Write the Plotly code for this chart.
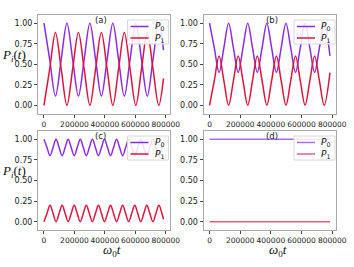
import plotly.graph_objects as go

# ---------------- data ----------------
t_a = [0, 37700, 75400, 113100, 150800, 188500, 226200, 263900, 301600, 339300,
       377000, 414700, 452400, 490100, 527800, 565500, 603200, 640900, 678600,
       716300, 754000, 785400]
P0_a = [1, 0.556, 0.112, 0.556, 1, 0.556, 0.112, 0.556, 1, 0.556, 0.112, 0.556,
        1, 0.556, 0.112, 0.556, 1, 0.556, 0.112, 0.556, 1, 0.671]
P1_a = [0, 0.444, 0.888, 0.444, 0, 0.444, 0.888, 0.444, 0, 0.444, 0.888, 0.444,
        0, 0.444, 0.888, 0.444, 0, 0.444, 0.888, 0.444, 0, 0.329]

t_b = [0, 31150, 62300, 93450, 124600, 155750, 186900, 218050, 249200, 280350,
       311500, 342650, 373800, 404950, 436100, 467250, 498400, 529550, 560700,
       591850, 623000, 654150, 685300, 716450, 747600, 785400]
P0_b = [1, 0.7, 0.4, 0.7, 1, 0.7, 0.4, 0.7, 1, 0.7, 0.4, 0.7, 1, 0.7, 0.4, 0.7,
        1, 0.7, 0.4, 0.7, 1, 0.7, 0.4, 0.7, 1, 0.602]
P1_b = [0, 0.3, 0.6, 0.3, 0, 0.3, 0.6, 0.3, 0, 0.3, 0.6, 0.3, 0, 0.3, 0.6, 0.3,
        0, 0.3, 0.6, 0.3, 0, 0.3, 0.6, 0.3, 0, 0.398]

t_c = [0, 19875, 39750, 59625, 79500, 99375, 119250, 139125, 159000, 178875,
       198750, 218625, 238500, 258375, 278250, 298125, 318000, 337875, 357750,
       377625, 397500, 417375, 437250, 457125, 477000, 496875, 516750, 536625,
       556500, 576375, 596250, 616125, 636000, 655875, 675750, 695625, 715500,
       735375, 755250, 775125, 785400]
P0_c = [1, 0.9, 0.8, 0.9, 1, 0.9, 0.8, 0.9, 1, 0.9, 0.8, 0.9, 1, 0.9, 0.8, 0.9,
        1, 0.9, 0.8, 0.9, 1, 0.9, 0.8, 0.9, 1, 0.9, 0.8, 0.9, 1, 0.9, 0.8, 0.9,
        1, 0.9, 0.8, 0.9, 1, 0.9, 0.8, 0.9, 0.972]
P1_c = [0, 0.1, 0.2, 0.1, 0, 0.1, 0.2, 0.1, 0, 0.1, 0.2, 0.1, 0, 0.1, 0.2, 0.1,
        0, 0.1, 0.2, 0.1, 0, 0.1, 0.2, 0.1, 0, 0.1, 0.2, 0.1, 0, 0.1, 0.2, 0.1,
        0, 0.1, 0.2, 0.1, 0, 0.1, 0.2, 0.1, 0.028]

t_d = [0, 785400]
P0_d = [1, 1]
P1_d = [0, 0]

panel_labels = ["(a)", "(b)", "(c)", "(d)"]
x_tickvals = [0, 200000, 400000, 600000, 800000]
x_ticktext = ["0", "200000", "400000", "600000", "800000"]
y_tickvals = [0, 0.25, 0.5, 0.75, 1.0]
y_ticktext = ["0.00", "0.25", "0.50", "0.75", "1.00"]

# ---------------- styling / layout ----------------
W, H = 354, 267
C0, C1 = "#8a2be2", "#dc143c"
C0d, C1d = "#a96cee", "#e8627c"


def px(x):
    return x / W


def py(y):
    return 1 - y / H


# pixel boxes (left, top, right, bottom)
boxes = [(38, 15, 169.5, 113.5), (203.5, 15, 336, 113.5),
         (38, 131, 169.5, 230), (203.5, 131, 336, 230)]

data_sets = [(t_a, P0_a, P1_a), (t_b, P0_b, P1_b), (t_c, P0_c, P1_c), (t_d, P0_d, P1_d)]

fig = go.Figure()
layout = dict(width=W, height=H, margin=dict(l=0, r=0, t=0, b=0, autoexpand=False),
              paper_bgcolor="white", plot_bgcolor="white", showlegend=False)
shapes, annotations = [], []

for i, ((t, p0, p1), (l, tp, r, b)) in enumerate(zip(data_sets, boxes)):
    n = "" if i == 0 else str(i + 1)
    c0, c1 = (C0d, C1d) if i == 3 else (C0, C1)
    fig.add_trace(go.Scatter(x=t, y=p0, mode="lines", name="P0",
                             line=dict(color=c0, width=1.5, shape="spline", smoothing=1.0),
                             xaxis="x" + n, yaxis="y" + n))
    fig.add_trace(go.Scatter(x=t, y=p1, mode="lines", name="P1",
                             line=dict(color=c1, width=1.5, shape="spline", smoothing=1.0),
                             xaxis="x" + n, yaxis="y" + n))
    ax = dict(domain=[px(l), px(r)], range=[-39270, 824670], anchor="y" + n,
              showline=True, mirror=True, linecolor="#aaaaaa", linewidth=1,
              ticks="outside", ticklen=3, tickcolor="#444", tickwidth=1, tickangle=0,
              tickvals=x_tickvals, ticktext=x_ticktext, showgrid=False, zeroline=False,
              automargin=False,
              tickfont=dict(family="DejaVu Sans", size=7.5, color="#222"))
    ay = dict(domain=[py(b), py(tp)], range=[-0.1, 1.1], anchor="x" + n,
              showline=True, mirror=True, linecolor="#aaaaaa", linewidth=1,
              ticks="outside", ticklen=3, tickcolor="#444", tickwidth=1,
              tickvals=y_tickvals, ticktext=y_ticktext, showgrid=False, zeroline=False,
              automargin=False,
              tickfont=dict(family="DejaVu Sans", size=8, color="#222"))
    layout["xaxis" + n] = ax
    layout["yaxis" + n] = ay

    # panel label
    annotations.append(dict(x=px((l + r) / 2 - 3 if i % 2 == 0 else (l + r) / 2 + 2),
                            y=py(tp + 5), xref="paper", yref="paper",
                            text=panel_labels[i], showarrow=False,
                            font=dict(family="DejaVu Sans", size=8.5, color="#222"),
                            xanchor="center", yanchor="middle"))

    # legend box (manual)
    bx0, bx1 = r - 42, r - 1
    by0, by1 = tp + 5, tp + 29
    shapes.append(dict(type="rect", xref="paper", yref="paper",
                       x0=px(bx0), x1=px(bx1), y0=py(by1), y1=py(by0),
                       line=dict(color="#d8d8d8", width=1), fillcolor="rgba(255,255,255,0.85)",
                       layer="above"))
    for j, (col, yy) in enumerate([(c0, by0 + 6.5), (c1, by0 + 18)]):
        shapes.append(dict(type="line", xref="paper", yref="paper",
                           x0=px(bx0 + 3), x1=px(bx0 + 21), y0=py(yy), y1=py(yy),
                           line=dict(color=col, width=1.5), layer="above"))
        annotations.append(dict(x=px(bx0 + 25), y=py(yy), xref="paper", yref="paper",
                                text="<i>P</i><sub>%d</sub>" % j, showarrow=False,
                                xanchor="left", yanchor="middle",
                                font=dict(family="DejaVu Sans", size=9, color="#111")))

# y axis titles (horizontal)
for yc in (55, 171):
    annotations.append(dict(x=px(14), y=py(yc), xref="paper", yref="paper",
                            text="<i>P</i><sub><i>i</i></sub>(<i>t</i>)", showarrow=False,
                            xanchor="center", yanchor="middle",
                            font=dict(family="Liberation Serif", size=13, color="#111")))
# x axis titles
for xc in (111.5, 277.5):
    annotations.append(dict(x=px(xc), y=py(250), xref="paper", yref="paper",
                            text="<i>ω</i><sub>0</sub><i>t</i>", showarrow=False,
                            xanchor="center", yanchor="middle",
                            font=dict(family="Liberation Serif", size=13, color="#111")))

layout["shapes"] = shapes
layout["annotations"] = annotations
fig.update_layout(**layout)
fig.write_html("out.html", config={"displayModeBar": False},
               post_script="document.body.style.margin='0';document.body.style.overflow='hidden';")
